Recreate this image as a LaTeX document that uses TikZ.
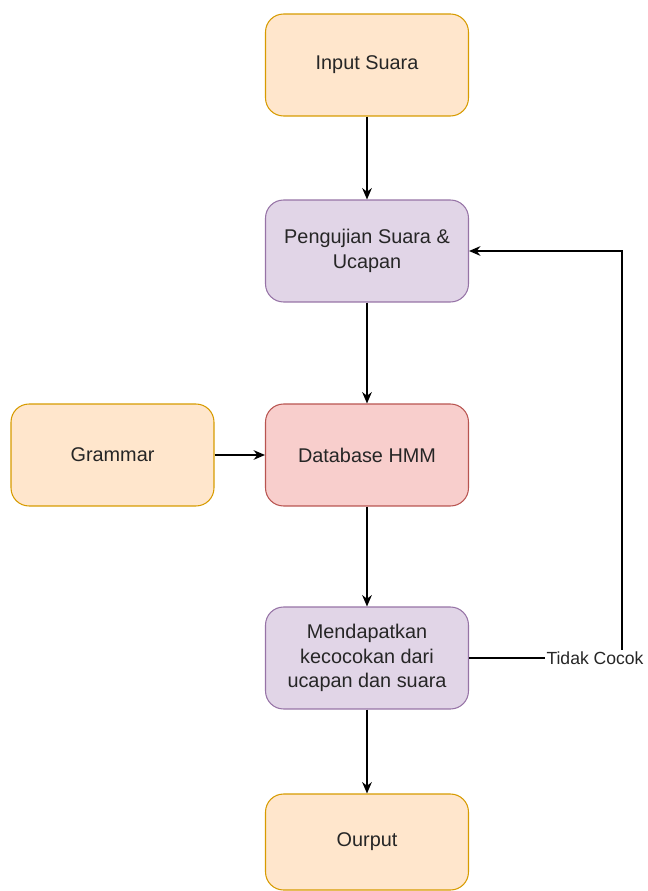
\documentclass[tikz,border=0pt]{standalone}
\usepackage{fontspec}
\setmainfont{Liberation Sans}
\usepackage{xcolor}
\usepackage{tikz}
\usetikzlibrary{positioning,calc,arrows.meta}

\definecolor{orfill}{HTML}{FFE6CC}
\definecolor{ordraw}{HTML}{D79B00}
\definecolor{pufill}{HTML}{E1D5E7}
\definecolor{pudraw}{HTML}{9673A6}
\definecolor{rdfill}{HTML}{F8CECC}
\definecolor{rddraw}{HTML}{B85450}

\begin{document}
\begin{tikzpicture}[x=0.02cm,y=-0.02cm,
		box/.style={minimum width=4.06cm,minimum height=2.04cm,rounded corners=0.36cm,line width=0.6pt,align=center,text=black!85,font=\fontsize{11.3}{13.9}\selectfont},
		orbox/.style={box,fill=orfill,draw=ordraw},
		pubox/.style={box,fill=pufill,draw=pudraw},
		rdbox/.style={box,fill=rdfill,draw=rddraw},
		arr/.style={-{Stealth[length=6.5pt,width=5.5pt]},line width=0.9pt}]
		\useasboundingbox (0,0) rectangle (647,891);
		\node[orbox] (in) at (367,65) {Input Suara};
		\node[pubox] (uji) at (367,251) {Pengujian Suara \&\\Ucapan};
		\node[rdbox] (hmm) at (367,455) {Database HMM};
		\node[orbox] (gram) at (112.5,455) {Grammar};
		\node[pubox] (cocok) at (367,658) {Mendapatkan\\kecocokan dari\\ucapan dan suara};
		\node[orbox,minimum height=1.92cm] (out) at (367,842) {Ourput};
		\coordinate (turn) at (622,251);
		
		\draw[arr] (in.south)--(uji.north);
		\draw[arr] (uji.south)--(hmm.north);
		\draw[arr] (gram.east)--(hmm.west);
		\draw[arr] (hmm.south)--(cocok.north);
		\draw[arr] (cocok.south)--(out.north);
		\draw[arr] (cocok.east)-|(turn)--(uji.east);
		\node[fill=white,inner sep=1pt,text=black!85,font=\fontsize{10}{12}\selectfont] (tidak) at (595,658) {Tidak Cocok};
	\end{tikzpicture}
\end{document}
